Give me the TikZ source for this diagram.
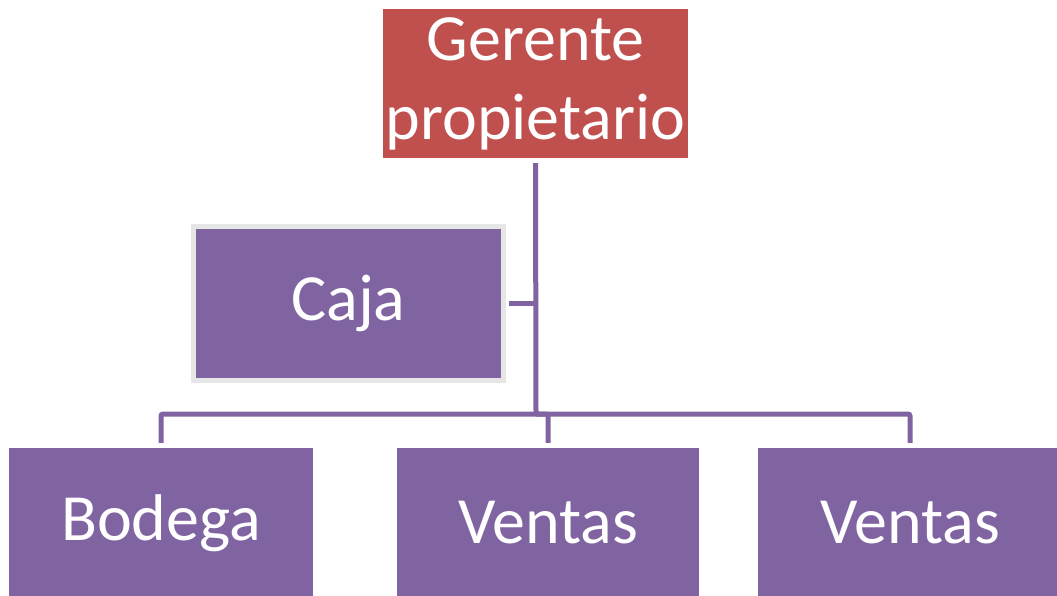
\documentclass[tikz,border=0pt]{standalone}
\usepackage{fontspec}
\setmainfont{Carlito}
\definecolor{rojo}{HTML}{C0504D}
\definecolor{morado}{HTML}{8064A2}
\definecolor{gris}{HTML}{E6E6E6}
\begin{document}
\begin{tikzpicture}[x=1pt,y=-1pt]
 % definition des styles
  \tikzstyle{boite}=[rectangle,fill=morado,text=white,inner sep=0pt,
    minimum width=304pt,minimum height=150pt,align=center,
    font=\fontsize{66}{79}\selectfont]
  \tikzstyle{lien}=[draw=morado,line width=5pt,rounded corners=2pt]
  \useasboundingbox (0,0) rectangle (1057,595);
  \clip (0,0) rectangle (1057,595);
 % les neuds
  \node[boite,fill=rojo,minimum width=305pt,minimum height=149pt] (ger) at (535.5,83.5) {Gerente\\propietario};
  \node[boite,minimum width=310pt,minimum height=154pt,draw=gris,line width=5pt] (caja) at (348.5,303.5) {Caja};
  \node[boite] (bod) at (161,523) {Bodega};
  \node[boite,minimum width=302pt] (ven1) at (548,523) {Ventas};
  \node[boite] (ven2) at (910,523) {Ventas};
  \coordinate (hub) at (536,414);
 % les lignes
  \draw[lien,shorten <=5pt] (ger.south) -- (hub);
  \draw[lien,shorten <=2.5pt] (caja.east) -- (caja.east -| hub);
  \draw[lien,shorten <=5pt] (bod.north) |- (hub);
  \draw[lien,shorten <=5pt] (ven1.north) |- (hub);
  \draw[lien,shorten <=5pt] (ven2.north) |- (hub);
\end{tikzpicture}
\end{document}
